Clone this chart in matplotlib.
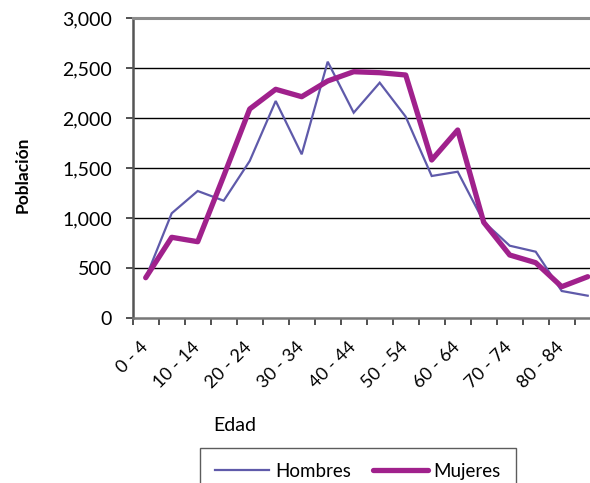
import matplotlib
matplotlib.use("Agg")
import matplotlib.pyplot as plt
from matplotlib.lines import Line2D

plt.rcParams['font.family'] = ['Lato', 'DejaVu Sans']

# age groups
edades = ['0 - 4', '5 - 9', '10 - 14', '15 - 19', '20 - 24', '25 - 29', '30 - 34',
          '35 - 39', '40 - 44', '45 - 49', '50 - 54', '55 - 59', '60 - 64',
          '65 - 69', '70 - 74', '75 - 79', '80 - 84', '85 +']

hombres = [400, 1047, 1270, 1173, 1570, 2170, 1637, 2563, 2053, 2353, 2013,
           1420, 1463, 963, 723, 663, 270, 223]
mujeres = [403, 807, 763, 1420, 2090, 2287, 2213, 2370, 2463, 2453, 2430,
           1580, 1880, 957, 630, 553, 313, 413]

y_ticks = [0, 500, 1000, 1500, 2000, 2500, 3000]

c_h = '#5f5aaa'
c_m = '#a0218c'

W, H = 590, 483
fig = plt.figure(figsize=(W / 100, H / 100), dpi=100)
ax = fig.add_axes([132.7 / W, 1 - 318 / H, 468 / W, 300 / H])

x = list(range(len(edades)))
ax.plot(x, hombres, color=c_h, lw=1.6, solid_joinstyle='miter')
ax.plot(x, mujeres, color=c_m, lw=3.8, solid_joinstyle='round', solid_capstyle='round')

ax.set_xlim(-0.5, len(edades) - 0.5)
ax.set_ylim(0, 3000)

# gridlines
for v in y_ticks[1:-1]:
    ax.axhline(v, color='black', lw=1.0, zorder=0)
ax.spines['top'].set_color('#8c8c8c')
ax.spines['top'].set_linewidth(2.2)
ax.spines['right'].set_visible(False)
ax.spines['left'].set_color('#555555')
ax.spines['left'].set_linewidth(1.8)
ax.spines['bottom'].set_color('#777777')
ax.spines['bottom'].set_linewidth(1.8)

ax.set_yticks(y_ticks)
ax.set_yticklabels([f'{v:,}' for v in y_ticks])
ax.tick_params(axis='y', length=5, width=1.2, color='#333333', pad=10, labelsize=14)

# x ticks at category boundaries, labels every other category
ax.set_xticks([i - 0.5 for i in range(len(edades) + 1)], minor=True)
ax.tick_params(axis='x', which='minor', length=5, width=1.2, color='#333333')
ax.set_xticks(x[::2])
ax.set_xticklabels(edades[::2], rotation=45, ha='right', va='center',
                   rotation_mode='anchor', fontsize=13)
ax.tick_params(axis='x', which='major', length=0, pad=19)

fig.text(23 / W, 1 - 175 / H, 'Población', rotation=90, ha='center', va='center',
         fontsize=12.5, fontweight='bold')
fig.text(213 / W, 1 - 431 / H, 'Edad', ha='left', va='baseline', fontsize=14)

handles = [Line2D([], [], color=c_h, lw=1.6),
           Line2D([], [], color=c_m, lw=3.8, solid_capstyle='round')]
leg = fig.legend(handles, ['Hombres', 'Mujeres'], loc='upper left',
                 bbox_to_anchor=(200 / W, 1 - 448 / H), ncol=2, fontsize=13.5,
                 frameon=True, fancybox=False, handlelength=2.9, handletextpad=0.3,
                 columnspacing=1.2, borderpad=0.8, borderaxespad=0)
leg.get_frame().set_edgecolor('#333333')
leg.get_frame().set_linewidth(1.0)

fig.savefig('out.png', dpi=100)
